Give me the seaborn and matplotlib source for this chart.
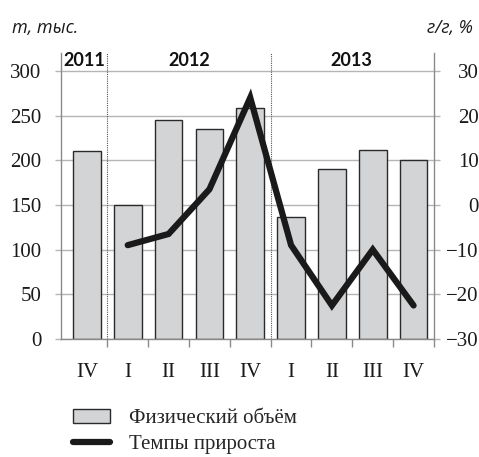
import matplotlib
matplotlib.use('Agg')
import matplotlib.pyplot as plt
import seaborn as sns
import numpy as np
import pandas as pd
from matplotlib.patches import Patch
from matplotlib.lines import Line2D

# ---- data ----
quarters = ['IV', 'I', 'II', 'III', 'IV', 'I', 'II', 'III', 'IV']
years = ['2011', '2012', '2012', '2012', '2012', '2013', '2013', '2013', '2013']
volume = [210, 150, 245, 235, 259, 136, 190, 212, 200]
growth = [np.nan, -9, -6.5, 3.5, 24, -9, -22.5, -10, -22.5]
year_labels = ['2011', '2012', '2013']
left_ticks = [0, 50, 100, 150, 200, 250, 300]
right_ticks = [-30, -20, -10, 0, 10, 20, 30]
legend_labels = ['Физический объём', 'Темпы прироста']

BAR_FC = '#d3d4d6'
BAR_EC = '#2a2a2a'
LINE_C = '#1a1a1a'
GRID_C = '#b5b5b5'
SPINE_C = '#8a8a8a'

sns.set_theme(style='white')
plt.rcParams['font.family'] = ['Liberation Serif', 'DejaVu Serif']

W, H = 479, 457
fig = plt.figure(figsize=(W / 100, H / 100), dpi=100)
ax = fig.add_axes([61 / W, 1 - 339 / H, (434 - 61) / W, (339 - 53) / H])

df = pd.DataFrame({
    'key': [f'{y} {q}' for y, q in zip(years, quarters)],
    'volume': volume,
    'growth': growth,
})
df['pos'] = np.arange(len(df))

sns.barplot(data=df, x='key', y='volume', color=BAR_FC, edgecolor=BAR_EC,
            linewidth=1, width=0.68, saturation=1, ax=ax, zorder=2)
ax.set_axisbelow(True)

ax2 = ax.twinx()
sns.lineplot(data=df, x='pos', y='growth', color=LINE_C, lw=4.5, ax=ax2,
             sort=False, solid_joinstyle='miter', zorder=3)

# limits
xl, xr = -0.634, 8.46
ax.set_xlim(xl, xr)
ax.set_ylim(0, 320)
ax2.set_ylim(-30, 34)

ax.set_yticks(left_ticks)
ax2.set_yticks(right_ticks)
ax.set_xlabel('')
ax.set_ylabel('')
ax2.set_xlabel('')
ax2.set_ylabel('')

ax.yaxis.grid(True, color=GRID_C, lw=1)
ax.xaxis.grid(False)
ax2.grid(False)

ax.set_xticks(range(len(quarters)))
ax.set_xticklabels(quarters)
ax.set_xticks(np.arange(0.5, len(quarters), 1), minor=True)
ax.tick_params(axis='x', which='major', length=0, pad=17, labelsize=15, colors='#1a1a1a')
ax.tick_params(axis='x', which='minor', length=6, width=1, color=SPINE_C, direction='out', bottom=True)
ax.tick_params(axis='y', length=4, width=1, color=GRID_C, pad=10, labelsize=15, labelcolor='#1a1a1a', left=True)
ax2.tick_params(axis='y', length=4, width=1, color=GRID_C, pad=28, labelsize=15, labelcolor='#1a1a1a', right=True)
for lab in ax2.get_yticklabels():
    lab.set_horizontalalignment('right')

for s in ['top', 'right']:
    ax.spines[s].set_visible(False)
for s in ['top', 'left', 'bottom']:
    ax2.spines[s].set_visible(False)
for s in ['left', 'bottom']:
    ax.spines[s].set_color(SPINE_C)
    ax.spines[s].set_linewidth(1)
ax2.spines['right'].set_color(SPINE_C)
ax2.spines['right'].set_linewidth(1)

# year dividers and labels
bounds = [xl]
for i in range(1, len(years)):
    if years[i] != years[i - 1]:
        bounds.append(i - 0.5)
        ax.axvline(i - 0.5, color='#555555', ls=(0, (1, 1)), lw=0.8, zorder=1)
bounds.append(xr)
for k, yl in enumerate(year_labels):
    ax.text((bounds[k] + bounds[k + 1]) / 2, 312, yl, ha='center', va='center',
            fontsize=13, fontweight='bold', family=['Lato', 'DejaVu Sans'], color='#111111')

fig.text(12 / W, 1 - 28 / H, 'т, тыс.', ha='left', va='center', style='italic',
         fontsize=13, family=['Open Sans', 'DejaVu Sans'], color='#1a1a1a')
fig.text(473 / W, 1 - 28 / H, 'г/г, %', ha='right', va='center', style='italic',
         fontsize=13, family=['Open Sans', 'DejaVu Sans'], color='#1a1a1a')

handles = [Patch(facecolor=BAR_FC, edgecolor=BAR_EC, lw=1),
           Line2D([], [], color=LINE_C, lw=4.5)]
fig.legend(handles, legend_labels, loc='upper left', bbox_to_anchor=(73 / W, 1 - 409 / H),
           frameon=False, fontsize=15, handlelength=1.78, handleheight=0.62,
           handletextpad=0.9, labelspacing=0.35, borderpad=0, borderaxespad=0)

fig.savefig('out.png', dpi=100)
